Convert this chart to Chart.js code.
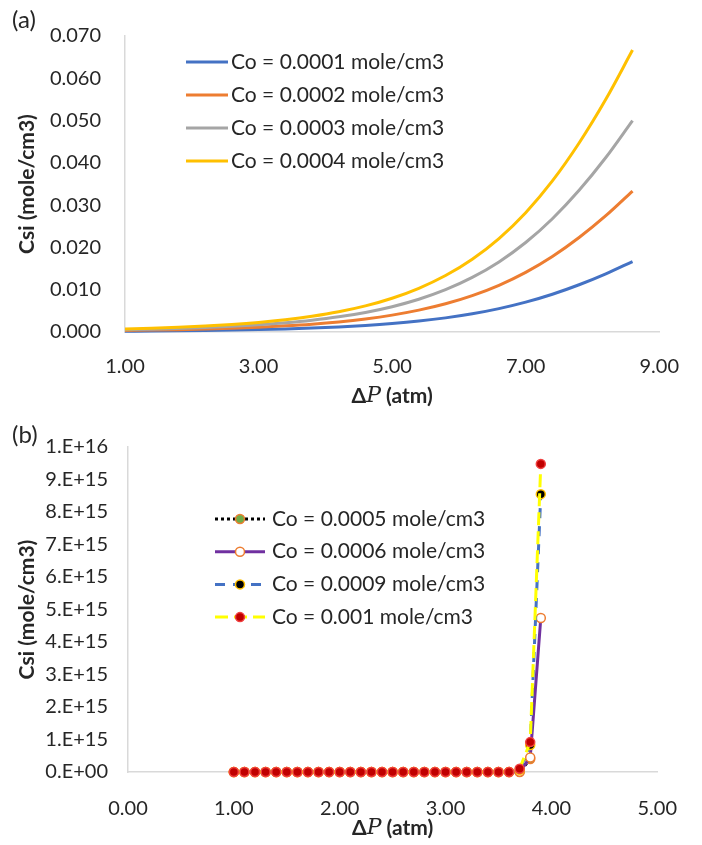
<!DOCTYPE html>
<html>
<head>
<meta charset="utf-8">
<script src="https://cdn.jsdelivr.net/npm/chart.js@4.4.1/dist/chart.umd.min.js"></script>
<style>
  html, body { margin: 0; padding: 0; background: #ffffff; }
  #wrap { position: relative; width: 702px; height: 845px; }
  #chartA { position: absolute; left: 0; top: 0; }
  #chartB { position: absolute; left: 0; top: 412px; }
</style>
</head>
<body>
<div id="wrap">
  <canvas id="chartA" width="702" height="412"></canvas>
  <canvas id="chartB" width="702" height="433"></canvas>
</div>
<script>
// ---- (a) Csi vs pressure difference, low inlet concentrations ----
const dP_a = [1.0, 1.4, 1.8, 2.2, 2.6, 3.0, 3.4, 3.8, 4.2, 4.6, 5.0, 5.4, 5.8, 6.2, 6.6, 7.0, 7.4, 7.8, 8.2, 8.6];
const csi_co0001 = [0.000178, 0.000223, 0.000280, 0.000353, 0.000446, 0.000567, 0.000724, 0.000928, 0.001194, 0.001543, 0.001997, 0.002584, 0.003338, 0.004303, 0.005526, 0.007053, 0.008930, 0.011172, 0.013755, 0.016667];
const csi_co0002 = [0.000356, 0.000445, 0.000559, 0.000705, 0.000893, 0.001135, 0.001449, 0.001856, 0.002388, 0.003085, 0.003993, 0.005168, 0.006676, 0.008607, 0.011051, 0.014105, 0.017860, 0.022344, 0.027510, 0.033334];
const csi_co0003 = [0.000534, 0.000668, 0.000839, 0.001058, 0.001339, 0.001702, 0.002173, 0.002784, 0.003582, 0.004628, 0.005990, 0.007753, 0.010014, 0.012910, 0.016577, 0.021158, 0.026790, 0.033516, 0.041265, 0.050001];
const csi_co0004 = [0.000712, 0.000890, 0.001118, 0.001410, 0.001786, 0.002270, 0.002897, 0.003712, 0.004776, 0.006170, 0.007986, 0.010337, 0.013352, 0.017214, 0.022103, 0.028211, 0.035720, 0.044688, 0.055020, 0.066668];
const labels_a = ['Co = 0.0001 mole/cm3', 'Co = 0.0002 mole/cm3', 'Co = 0.0003 mole/cm3', 'Co = 0.0004 mole/cm3'];

// ---- (b) Csi vs pressure difference, high inlet concentrations ----
const dP_b = [1.0, 1.1, 1.2, 1.3, 1.4, 1.5, 1.6, 1.7, 1.8, 1.9, 2.0, 2.1, 2.2, 2.3, 2.4, 2.5, 2.6, 2.7, 2.8, 2.9, 3.0, 3.1, 3.2, 3.3, 3.4, 3.5, 3.6, 3.7, 3.8, 3.9];
const csi_co0005 = [0, 0, 0, 0, 0, 0, 0, 0, 0, 0, 0, 0, 0, 0, 0, 0, 0, 0, 0, 0, 0, 0, 0, 0, 0, 0, 0, 0, 4.0e14, null];
const csi_co0006 = [0, 0, 0, 0, 0, 0, 0, 0, 0, 0, 0, 0, 0, 0, 0, 0, 0, 0, 0, 0, 0, 0, 0, 0, 0, 0, 0, 1.0e13, 4.5e14, 4.74e15];
const csi_co0009 = [0, 0, 0, 0, 0, 0, 0, 0, 0, 0, 0, 0, 0, 0, 0, 0, 0, 0, 0, 0, 0, 0, 0, 0, 0, 0, 0, 7.0e13, 8.3e14, 8.55e15];
const csi_co001 = [0, 0, 0, 0, 0, 0, 0, 0, 0, 0, 0, 0, 0, 0, 0, 0, 0, 0, 0, 0, 0, 0, 0, 0, 0, 0, 0, 1.0e14, 9.2e14, 9.48e15];
const labels_b = ['Co = 0.0005 mole/cm3', 'Co = 0.0006 mole/cm3', 'Co = 0.0009 mole/cm3', 'Co = 0.001 mole/cm3'];

const FONT = 'Lato, "Liberation Sans", sans-serif';
const TEXT = '#262626';
const AXIS = '#d9d9d9';

const pairs = (xs, ys) => xs.map((x, i) => ({ x: x, y: ys[i] }));

// Legend drawn inside the plot: line sample, optional marker, label
const seriesLegend = {
  id: 'seriesLegend',
  afterDraw(chart, args, o) {
    const ctx = chart.ctx;
    ctx.save();
    chart.data.datasets.forEach((ds, i) => {
      const y = o.y0 + i * o.dy;
      ctx.setLineDash(ds.borderDash || []);
      ctx.lineCap = 'butt';
      ctx.strokeStyle = ds.borderColor;
      ctx.lineWidth = ds.borderWidth;
      ctx.beginPath();
      ctx.moveTo(o.x0, y);
      ctx.lineTo(o.x1, y);
      ctx.stroke();
      ctx.setLineDash([]);
      if (ds.pointRadius > 0) {
        ctx.beginPath();
        ctx.arc((o.x0 + o.x1) / 2, y, ds.pointRadius, 0, Math.PI * 2);
        ctx.fillStyle = ds.pointBackgroundColor;
        ctx.fill();
        ctx.lineWidth = ds.pointBorderWidth;
        ctx.strokeStyle = ds.pointBorderColor;
        ctx.stroke();
      }
      ctx.font = o.font;
      ctx.fillStyle = TEXT;
      ctx.textAlign = 'left';
      ctx.textBaseline = 'middle';
      ctx.fillText(ds.label, o.xt, y);
    });
    ctx.restore();
  }
};

// Panel tag and the x-axis caption with an italic P
const axisCaption = {
  id: 'axisCaption',
  afterDraw(chart, args, o) {
    const ctx = chart.ctx, a = chart.chartArea;
    ctx.save();
    ctx.fillStyle = TEXT;
    ctx.textBaseline = 'middle';
    ctx.textAlign = 'left';
    ctx.font = o.tagFont;
    ctx.fillText(o.tag, o.tagX, o.tagY);
    const parts = [['Δ', o.boldFont], ['P', o.italicFont], [' (atm)', o.boldFont]];
    let w = 0;
    parts.forEach(p => { ctx.font = p[1]; w += ctx.measureText(p[0]).width; });
    let x = (a.left + a.right) / 2 - w / 2;
    parts.forEach(p => { ctx.font = p[1]; ctx.fillText(p[0], x, o.titleY); x += ctx.measureText(p[0]).width; });
    ctx.restore();
  }
};

const captionOpts = (tag, tagY, titleY) => ({
  tag: tag, tagX: 12, tagY: tagY, titleY: titleY,
  tagFont: '24px ' + FONT,
  boldFont: 'bold 21px ' + FONT,
  italicFont: 'italic 22px "DejaVu Serif", "Liberation Serif", serif'
});

function yTitle() {
  return { display: true, text: 'Csi (mole/cm3)', color: TEXT, font: { family: FONT, size: 21, weight: 'bold' }, padding: { top: 15, bottom: 0 } };
}

// ---------- chart (a) ----------
const lineA = (label, data, color, order) => ({
  label: label, data: pairs(dP_a, data), borderColor: color, backgroundColor: color,
  borderWidth: 3, pointRadius: 0, cubicInterpolationMode: 'monotone', clip: false, order: order
});

new Chart(document.getElementById('chartA'), {
  type: 'line',
  data: {
    datasets: [
      lineA(labels_a[0], csi_co0001, '#4472C4', 4),
      lineA(labels_a[1], csi_co0002, '#ED7D31', 3),
      lineA(labels_a[2], csi_co0003, '#A5A5A5', 2),
      lineA(labels_a[3], csi_co0004, '#FFC000', 1)
    ]
  },
  options: {
    responsive: false,
    animation: false,
    layout: { padding: { left: 0, right: 21, top: 20, bottom: 0 } },
    plugins: {
      legend: { display: false },
      tooltip: { enabled: false },
      seriesLegend: { x0: 186, x1: 228, xt: 231, y0: 62, dy: 33, font: '21px ' + FONT },
      axisCaption: captionOpts('(a)', 20, 396)
    },
    scales: {
      x: {
        type: 'linear', min: 1, max: 9,
        grid: { drawOnChartArea: false, drawTicks: false },
        border: { color: AXIS, width: 1.5 },
        ticks: { stepSize: 2, padding: 23, color: TEXT, font: { family: FONT, size: 20 }, callback: v => v.toFixed(2) },
        afterFit: s => { s.height = 80; }
      },
      y: {
        type: 'linear', min: 0, max: 0.07,
        grid: { drawOnChartArea: false, drawTicks: false },
        border: { color: AXIS, width: 1.5 },
        ticks: { stepSize: 0.01, padding: 24, color: TEXT, font: { family: FONT, size: 20 }, callback: v => v.toFixed(3) },
        title: yTitle(),
        afterFit: s => { s.width = 125; }
      }
    }
  },
  plugins: [seriesLegend, axisCaption]
});

// ---------- chart (b) ----------
const lineB = (label, data, line, dash, fill, edge, order) => ({
  label: label, data: pairs(dP_b, data), borderColor: line, backgroundColor: line,
  borderWidth: 3, borderDash: dash, tension: 0,
  pointRadius: 4.5, pointBackgroundColor: fill, pointBorderColor: edge, pointBorderWidth: 1.5,
  clip: false, order: order
});

new Chart(document.getElementById('chartB'), {
  type: 'line',
  data: {
    datasets: [
      lineB(labels_b[0], csi_co0005, '#000000', [3, 3], '#70AD47', '#ED7D31', 4),
      lineB(labels_b[1], csi_co0006, '#7030A0', [], '#FFFFFF', '#ED7D31', 3),
      lineB(labels_b[2], csi_co0009, '#4472C4', [10, 8], '#000000', '#FFC000', 2),
      lineB(labels_b[3], csi_co001, '#FFFF00', [13, 6], '#C00000', '#F04040', 1)
    ]
  },
  options: {
    responsive: false,
    animation: false,
    layout: { padding: { left: 0, right: 27, top: 35, bottom: 0 } },
    plugins: {
      legend: { display: false },
      tooltip: { enabled: false },
      seriesLegend: { x0: 215, x1: 265, xt: 272, y0: 107, dy: 32.7, font: '21px ' + FONT },
      axisCaption: captionOpts('(b)', 23, 416)
    },
    scales: {
      x: {
        type: 'linear', min: 0, max: 5,
        grid: { drawOnChartArea: false, drawTicks: false },
        border: { color: AXIS, width: 1.5 },
        ticks: { stepSize: 1, padding: 25, color: TEXT, font: { family: FONT, size: 20 }, callback: v => v.toFixed(2) },
        afterFit: s => { s.height = 73; }
      },
      y: {
        type: 'linear', min: 0, max: 1e16,
        grid: { drawOnChartArea: false, drawTicks: false },
        border: { color: AXIS, width: 1.5 },
        ticks: {
          stepSize: 1e15, padding: 20, color: TEXT, font: { family: FONT, size: 20 },
          callback: v => {
            if (v === 0) return '0.E+00';
            const e = Math.floor(Math.log10(v) + 1e-9);
            return Math.round(v / Math.pow(10, e)) + '.E+' + e;
          }
        },
        title: yTitle(),
        afterFit: s => { s.width = 128; }
      }
    }
  },
  plugins: [seriesLegend, axisCaption]
});
</script>
</body>
</html>
